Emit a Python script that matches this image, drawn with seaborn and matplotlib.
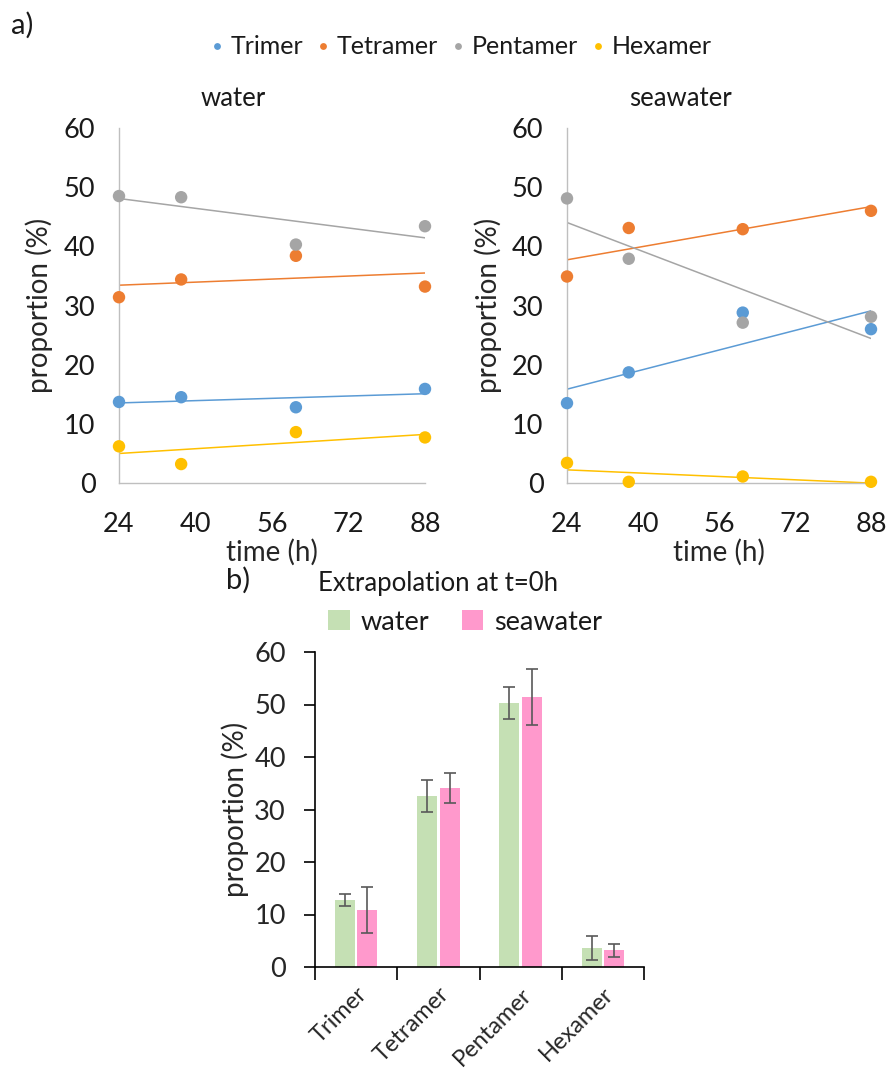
import numpy as np
import pandas as pd
import matplotlib
matplotlib.use("Agg")
import matplotlib.pyplot as plt
import seaborn as sns

# data
times = [24, 37, 61, 88]
oligomers = ["Trimer", "Tetramer", "Pentamer", "Hexamer"]

water_trimer = [13.7, 14.5, 12.8, 15.9]
water_tetramer = [31.4, 34.4, 38.4, 33.2]
water_pentamer = [48.5, 48.3, 40.3, 43.4]
water_hexamer = [6.2, 3.2, 8.6, 7.7]

sea_trimer = [13.5, 18.7, 28.8, 26.0]
sea_tetramer = [34.9, 43.1, 42.9, 46.0]
sea_pentamer = [48.1, 37.9, 27.1, 28.1]
sea_hexamer = [3.4, 0.2, 1.1, 0.2]

extrap_water = [12.8, 32.6, 50.3, 3.7]
extrap_water_err = [1.2, 3.0, 3.05, 2.3]
extrap_sea = [10.9, 34.1, 51.4, 3.2]
extrap_sea_err = [4.35, 2.9, 5.3, 1.25]

line_colors = {"Trimer": "#5B9BD5", "Tetramer": "#ED7D31",
               "Pentamer": "#A5A5A5", "Hexamer": "#FFC000"}
bar_colors = {"water": "#C5E0B4", "seawater": "#FF99CC"}

sns.set_style("white")
plt.rcParams["font.family"] = ["Lato", "DejaVu Sans"]
plt.rcParams["text.color"] = "#1a1a1a"

W, H = 891, 1072
fig = plt.figure(figsize=(W / 100, H / 100), dpi=100)


def fx(px):
    return px / W


def fy(py):
    return 1 - py / H


def make_long(series):
    rows = []
    for name, vals in series.items():
        for t, v in zip(times, vals):
            rows.append({"time": t, "proportion": v, "oligomer": name})
    return pd.DataFrame(rows)


df_water = make_long({"Trimer": water_trimer, "Tetramer": water_tetramer,
                      "Pentamer": water_pentamer, "Hexamer": water_hexamer})
df_sea = make_long({"Trimer": sea_trimer, "Tetramer": sea_tetramer,
                    "Pentamer": sea_pentamer, "Hexamer": sea_hexamer})

ax_w = fig.add_axes([fx(119), fy(483), fx(425 - 119), (483 - 128) / H])
ax_s = fig.add_axes([fx(567), fy(483), fx(871 - 567), (483 - 128) / H])

for ax, df in [(ax_w, df_water), (ax_s, df_sea)]:
    for name in oligomers:
        sub = df[df["oligomer"] == name]
        sns.regplot(data=sub, x="time", y="proportion", ax=ax, scatter=False,
                    ci=None, color=line_colors[name], line_kws={"lw": 1.1})
    sns.scatterplot(data=df, x="time", y="proportion", hue="oligomer",
                    palette=line_colors, s=80, edgecolor="none", ax=ax,
                    clip_on=False, zorder=3, legend=(ax is ax_w))
    ax.set_xlim(24, 88)
    ax.set_ylim(0, 60)
    ax.set_xticks([24, 40, 56, 72, 88])
    ax.set_yticks(range(0, 61, 10))
    ax.tick_params(axis="both", length=0, labelsize=19.5, colors="#1a1a1a")
    ax.tick_params(axis="x", pad=21)
    ax.tick_params(axis="y", pad=17)
    for side in ["top", "right"]:
        ax.spines[side].set_visible(False)
    for side in ["left", "bottom"]:
        ax.spines[side].set_color("#BFBFBF")
        ax.spines[side].set_linewidth(1)
    ax.set_xlabel("time (h)", fontsize=20)
    ax.xaxis.set_label_coords(0.5, -0.158)
    ax.set_ylabel("proportion (%)", fontsize=20)
    ax.yaxis.set_label_coords(-0.215, 0.5)

handles, labels = ax_w.get_legend_handles_labels()
ax_w.get_legend().remove()
fig.legend(handles, labels, loc="center", bbox_to_anchor=(fx(462), fy(47)),
           ncol=4, frameon=False, fontsize=18, handlelength=0.4,
           handletextpad=0.35, columnspacing=0.6, markerscale=0.55)

fig.text(fx(233), fy(98), "water", fontsize=18.5, ha="center", va="center")
fig.text(fx(680), fy(98), "seawater", fontsize=18.5, ha="center", va="center")
fig.text(fx(22), fy(25), "a)", fontsize=21, ha="center", va="center")

# b) extrapolation bars
df_bar = pd.DataFrame({
    "oligomer": oligomers * 2,
    "value": extrap_water + extrap_sea,
    "medium": ["water"] * 4 + ["seawater"] * 4,
})
errs = {"water": extrap_water_err, "seawater": extrap_sea_err}

ax_b = fig.add_axes([fx(315), fy(967), fx(644 - 315), (967 - 652) / H])
sns.barplot(data=df_bar, x="oligomer", y="value", hue="medium",
            palette=bar_colors, saturation=1, width=0.55, gap=0.12, ax=ax_b,
            linewidth=0)

for cont, medium in zip(ax_b.containers, ["water", "seawater"]):
    xs = [p.get_x() + p.get_width() / 2 for p in cont]
    hs = [p.get_height() for p in cont]
    ax_b.errorbar(xs, hs, yerr=errs[medium], fmt="none", ecolor="#595959",
                  elinewidth=1.2, capsize=4, capthick=1.2, zorder=4)

ax_b.set_xlim(-0.5, 3.5)
ax_b.set_ylim(0, 60)
ax_b.set_yticks(range(0, 61, 10))
ax_b.set_xticks([-0.5, 0.5, 1.5, 2.5, 3.5])
ax_b.set_xticklabels([])
ax_b.set_xticks(range(4), minor=True)
ax_b.set_xticklabels(oligomers, minor=True, rotation=45, ha="right",
                     va="top", rotation_mode="anchor", fontsize=17)
ax_b.tick_params(axis="x", which="major", length=9, width=1.2,
                 direction="out", bottom=True, color="black")
ax_b.tick_params(axis="x", which="minor", length=0, pad=12)
ax_b.tick_params(axis="y", length=8, width=1.2, direction="out", left=True,
                 color="black", labelsize=19.5, pad=13)
for side in ["top", "right"]:
    ax_b.spines[side].set_visible(False)
for side in ["left", "bottom"]:
    ax_b.spines[side].set_color("black")
    ax_b.spines[side].set_linewidth(1.2)
ax_b.set_xlabel("")
ax_b.set_ylabel("proportion (%)", fontsize=20)
ax_b.yaxis.set_label_coords(-0.2, 0.5)

bh, bl = ax_b.get_legend_handles_labels()
ax_b.get_legend().remove()
fig.legend(bh, bl, loc="center", bbox_to_anchor=(fx(465), fy(622)), ncol=2,
           frameon=False, fontsize=19.5, handlelength=0.8, handleheight=0.8,
           handletextpad=0.4, columnspacing=1.2)

fig.text(fx(238), fy(580), "b)", fontsize=21, ha="center", va="center")
fig.text(fx(438), fy(584), "Extrapolation at t=0h", fontsize=18.5,
         ha="center", va="center")

fig.savefig("out.png", dpi=100)
